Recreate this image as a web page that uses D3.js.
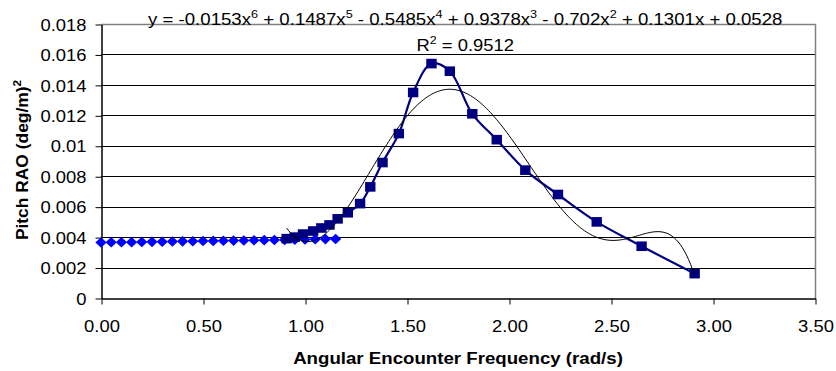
<!DOCTYPE html>
<html>
<head>
<meta charset="utf-8">
<script src="https://cdn.jsdelivr.net/npm/d3@7"></script>
<style>
  html, body { margin: 0; padding: 0; background: #fff; }
  svg { display: block; font-family: "Liberation Sans", Arial, sans-serif; }
</style>
</head>
<body>
<svg id="chart" width="836" height="371"></svg>
<script>
// Low-frequency series (diamonds)
const lowX = [0.00, 0.05, 0.10, 0.15, 0.20, 0.25, 0.30, 0.35, 0.40, 0.45, 0.50, 0.55,
              0.60, 0.65, 0.70, 0.75, 0.80, 0.85, 0.90, 0.95, 1.00, 1.05, 1.10, 1.15];
const lowY = [0.00365, 0.00366, 0.00366, 0.00367, 0.00368, 0.00369, 0.00370, 0.00371,
              0.00372, 0.00373, 0.00374, 0.00375, 0.00376, 0.00377, 0.00378, 0.00379,
              0.00380, 0.00381, 0.00382, 0.00383, 0.00384, 0.00386, 0.00387, 0.00388];

// Encounter-frequency series (squares)
const rao_X = [0.91, 0.95, 0.99, 1.04, 1.08, 1.12, 1.16, 1.21, 1.27, 1.32, 1.38, 1.46,
               1.53, 1.62, 1.71, 1.82, 1.94, 2.08, 2.24, 2.43, 2.65, 2.91];
const rao_Y = [0.0039, 0.0040, 0.0042, 0.0044, 0.0046, 0.0048, 0.0052, 0.0056, 0.0062,
               0.0073, 0.0089, 0.0108, 0.0135, 0.0154, 0.0149, 0.0121, 0.0104, 0.0084,
               0.0068, 0.0050, 0.0034, 0.0016];

const xTickValues = [0, 0.5, 1.0, 1.5, 2.0, 2.5, 3.0, 3.5];
const xTickLabels = ["0.00", "0.50", "1.00", "1.50", "2.00", "2.50", "3.00", "3.50"];
const yTickValues = [0, 0.002, 0.004, 0.006, 0.008, 0.010, 0.012, 0.014, 0.016, 0.018];
const yTickLabels = ["0", "0.002", "0.004", "0.006", "0.008", "0.01", "0.012", "0.014", "0.016", "0.018"];

const xTitle = "Angular Encounter Frequency (rad/s)";
const yTitle = "Pitch RAO (deg/m)";
const eqParts = [["y = -0.0153x", "6"], [" + 0.1487x", "5"], [" - 0.5485x", "4"],
                 [" + 0.9378x", "3"], [" - 0.702x", "2"], [" + 0.1301x + 0.0528", null]];
const r2Parts = [["R", "2"], [" = 0.9512", null]];

const FONT = '"Liberation Sans", Arial, sans-serif';
const SX = 1.15; // horizontal widening of the text glyphs

const svg = d3.select("#chart");
const plot = { left: 101, right: 815, top: 24, bottom: 298 };

const x = d3.scaleLinear().domain([0, 3.5]).range([plot.left, plot.right]);
const y = d3.scaleLinear().domain([0, 0.018]).range([plot.bottom, plot.top]);

// Horizontal gridlines
svg.append("g").selectAll("line")
  .data(yTickValues.filter(v => v > 0 && v < 0.018))
  .join("line")
  .attr("x1", plot.left).attr("x2", plot.right)
  .attr("y1", d => Math.round(y(d)) + 0.5).attr("y2", d => Math.round(y(d)) + 0.5)
  .attr("stroke", "#000").attr("stroke-width", 1);

// Plot-area frame (top and right edges)
svg.append("path")
  .attr("d", `M${plot.left},${plot.top + 0.5}H${plot.right + 0.5}V${plot.bottom}`)
  .attr("fill", "none").attr("stroke", "#808080").attr("stroke-width", 1.5);

// Axes
const yAxis = d3.axisLeft(y).tickValues(yTickValues)
  .tickFormat((d, i) => yTickLabels[i]).tickSize(6).tickSizeOuter(0);
const xAxis = d3.axisBottom(x).tickValues(xTickValues)
  .tickFormat((d, i) => xTickLabels[i]).tickSize(6).tickSizeOuter(0);

const gy = svg.append("g").attr("transform", `translate(${plot.left + 0.5},0.5)`).call(yAxis);
const gx = svg.append("g").attr("transform", `translate(0.5,${plot.bottom + 0.5})`).call(xAxis);

[gx, gy].forEach(g => {
  g.select(".domain").attr("stroke", "#000").attr("stroke-width", 1.5);
  g.selectAll(".tick line").attr("stroke", "#000").attr("stroke-width", 1);
  g.selectAll(".tick text").attr("fill", "#000")
    .style("font-family", FONT).style("font-size", "16px");
});
gy.selectAll(".tick text")
  .attr("x", null).attr("dy", null)
  .attr("text-anchor", "end")
  .attr("transform", `translate(-15,5.7) scale(${SX},1)`);
gx.selectAll(".tick text")
  .attr("y", null).attr("dy", null)
  .attr("text-anchor", "middle")
  .attr("transform", `translate(0,33.5) scale(${SX},1)`);

// Polynomial trendline (6th order least squares through the square series)
function polyfit(xs, ys, deg, c) {
  const n = deg + 1;
  const M = Array.from({ length: n }, () => new Array(n + 1).fill(0));
  xs.forEach((xv, k) => {
    const t = xv - c;
    const p = [];
    for (let i = 0; i < n; i++) p.push(Math.pow(t, i));
    for (let i = 0; i < n; i++) {
      for (let j = 0; j < n; j++) M[i][j] += p[i] * p[j];
      M[i][n] += p[i] * ys[k];
    }
  });
  for (let col = 0; col < n; col++) {
    let piv = col;
    for (let r = col + 1; r < n; r++) if (Math.abs(M[r][col]) > Math.abs(M[piv][col])) piv = r;
    [M[col], M[piv]] = [M[piv], M[col]];
    for (let r = 0; r < n; r++) {
      if (r === col) continue;
      const f = M[r][col] / M[col][col];
      for (let j = col; j <= n; j++) M[r][j] -= f * M[col][j];
    }
  }
  const coef = M.map((row, i) => row[n] / row[i]);
  return xv => coef.reduce((s, a, i) => s + a * Math.pow(xv - c, i), 0);
}
const trend = polyfit(rao_X, rao_Y, 6, 1.9);
const x0 = d3.min(rao_X), x1 = d3.max(rao_X);
const trendPts = d3.range(0, 201).map(i => {
  const xv = x0 + (x1 - x0) * i / 200;
  return [xv, trend(xv)];
});

// Square series line
const raoPts = rao_X.map((v, i) => [v, rao_Y[i]]);
svg.append("path")
  .datum(raoPts)
  .attr("fill", "none").attr("stroke", "#000080").attr("stroke-width", 2.2)
  .attr("stroke-linejoin", "round")
  .attr("d", d3.line().x(d => x(d[0])).y(d => y(d[1])).curve(d3.curveCatmullRom.alpha(0.5)));

// Diamonds
const lowPts = lowX.map((v, i) => [v, lowY[i]]);
svg.append("g").selectAll("path")
  .data(lowPts)
  .join("path")
  .attr("transform", d => `translate(${x(d[0])},${y(d[1])})`)
  .attr("d", "M0,-5.3L5.6,0L0,5.3L-5.6,0Z")
  .attr("fill", "#0000ff");

// Squares
svg.append("g").selectAll("rect")
  .data(raoPts)
  .join("rect")
  .attr("x", d => x(d[0]) - 5.2).attr("y", d => y(d[1]) - 4.8)
  .attr("width", 10.4).attr("height", 9.6)
  .attr("fill", "#000080");

// Trendline on top
svg.append("path")
  .datum(trendPts)
  .attr("fill", "none").attr("stroke", "#000").attr("stroke-width", 1)
  .attr("d", d3.line().x(d => x(d[0])).y(d => y(d[1])));

// Text helper: runs of [text, superscript]; the baseline returns after each superscript
function richText(sel, parts, size) {
  const rise = size * 0.42;
  let raised = false;
  parts.forEach(([t, sup]) => {
    const main = sel.append("tspan").text(t);
    if (raised) main.attr("dy", rise);
    raised = false;
    if (sup) {
      sel.append("tspan").attr("dy", -rise).style("font-size", (size * 0.68) + "px").text(sup);
      raised = true;
    }
  });
}

// Trendline equation and R²
const eq = svg.append("text")
  .style("font-family", FONT).style("font-size", "16px").attr("fill", "#000");
richText(eq, eqParts, 16);
const eqW = eq.node().getComputedTextLength();
eq.attr("transform", `translate(148,25) scale(${635 / eqW},1)`);

const r2 = svg.append("text")
  .style("font-family", FONT).style("font-size", "16px").attr("fill", "#000");
richText(r2, r2Parts, 16);
const r2W = r2.node().getComputedTextLength();
r2.attr("transform", `translate(416.5,50.7) scale(${97.5 / r2W},1)`);

// Axis titles
const xt = svg.append("text")
  .style("font-family", FONT).style("font-size", "17px").style("font-weight", "bold")
  .attr("text-anchor", "middle").attr("fill", "#000").text(xTitle);
const xtW = xt.node().getComputedTextLength();
xt.attr("transform", `translate(${(plot.left + plot.right) / 2},364) scale(${330 / xtW},1)`);

const yt = svg.append("text")
  .style("font-family", FONT).style("font-size", "17.4px").style("font-weight", "bold")
  .attr("text-anchor", "middle").attr("fill", "#000")
  .attr("transform", `translate(28,160) rotate(-90)`);
richText(yt, [[yTitle, "2"]], 17.4);
</script>
</body>
</html>
